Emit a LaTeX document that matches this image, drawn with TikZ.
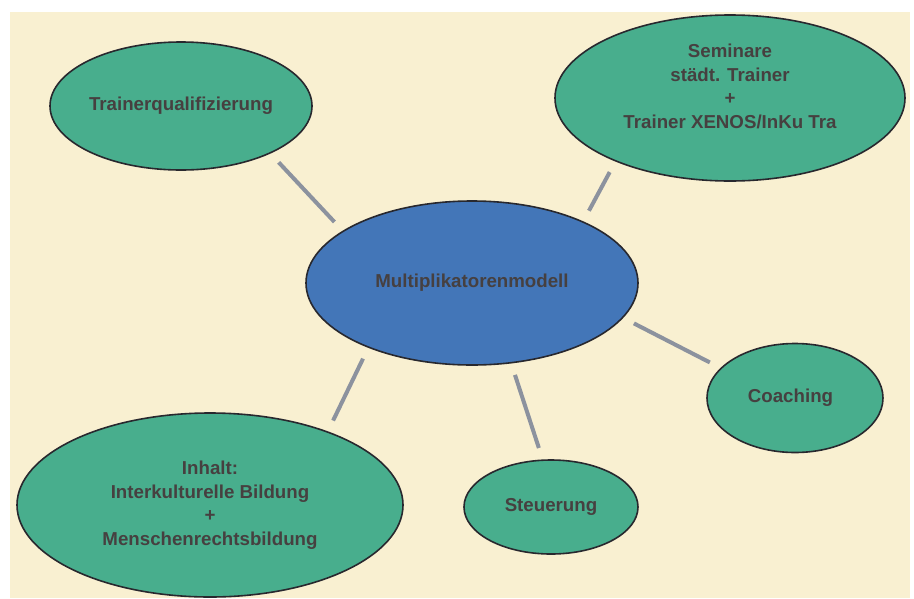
\documentclass[tikz,border=0pt]{standalone}
\usepackage{fontspec}
\setmainfont{Liberation Sans}
\usepackage{tikz}
\usetikzlibrary{shapes.geometric}

\definecolor{cream}{RGB}{249,240,209}
\definecolor{bubblegreen}{RGB}{72,174,141}
\definecolor{bubbleblue}{RGB}{67,118,184}
\definecolor{rimgray}{RGB}{40,40,46}
\definecolor{textgray}{RGB}{70,64,64}
\definecolor{linkgray}{RGB}{140,146,158}

\tikzset{
  bubble/.style={ellipse, draw=rimgray, line width=1.6pt, fill=bubblegreen,
    inner sep=0pt, align=center, text=textgray,
    font=\fontsize{18.7}{23.5}\selectfont\bfseries},
  link/.style={draw=linkgray, line width=4pt, shorten >=12pt, shorten <=12pt}
}

\begin{document}
\begin{tikzpicture}[x=1pt,y=-1pt]
\useasboundingbox (0,0) rectangle (914,598);
\fill[cream] (10,12) rectangle (910,598);

\coordinate (Trainer) at (181,106);
\coordinate (Seminare) at (730,98);
\coordinate (Modell) at (472,283);
\coordinate (Coaching) at (795,398);
\coordinate (Steuerung) at (551,507);
\coordinate (Inhalt) at (210,505);

\node[bubble, minimum width=262pt, minimum height=128pt] (tq) at (Trainer) {Trainerqualifizierung};
\node[bubble, minimum width=350pt, minimum height=166pt, text depth=24pt] (sem) at (Seminare)
  {Seminare\\städt. Trainer\\+\\Trainer XENOS/InKu Tra};
\node[bubble, fill=bubbleblue, minimum width=332pt, minimum height=164pt] (mm) at (Modell) {Multiplikatorenmodell};
\node[bubble, minimum width=176pt, minimum height=109pt] (co) at (Coaching) {Coaching\hspace{9pt}};
\node[bubble, minimum width=174pt, minimum height=94pt] (st) at (Steuerung) {Steuerung};
\node[bubble, minimum width=386pt, minimum height=184pt] (inh) at (Inhalt)
  {Inhalt:\\Interkulturelle Bildung\\+\\Menschenrechtsbildung};

\foreach \from/\to in {tq.-28/mm.158, sem.-151/mm.29, mm.-13/co.158, mm.-64/st.100, mm.-148/inh.32}
\draw[link] (\from) -- (\to);

\end{tikzpicture}
\end{document}
